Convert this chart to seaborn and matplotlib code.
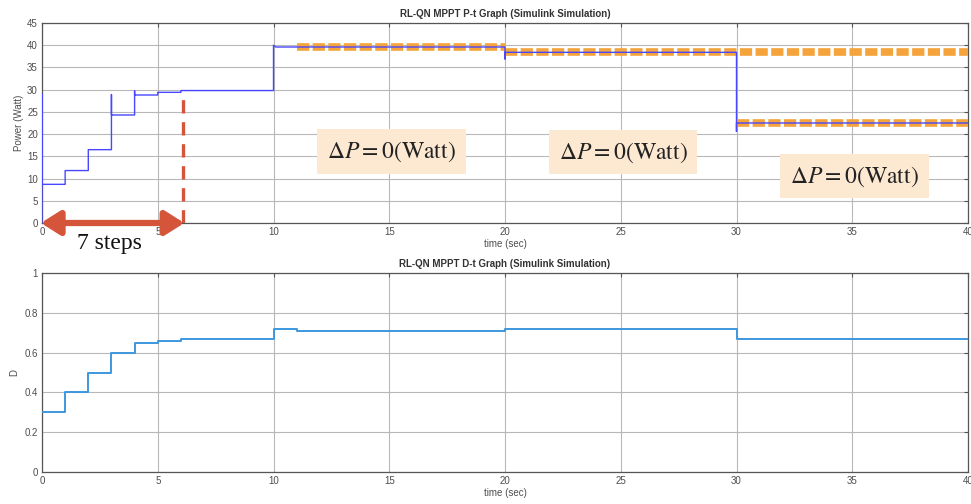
import numpy as np
import pandas as pd
import seaborn as sns
from matplotlib import pyplot as plt

# P-t trace (Simulink), vertices of the step trace incl. the short spikes
p_time = [0, 0, 0, 1, 1, 2, 2, 3, 3, 3, 4, 4, 4, 5, 5, 6, 6, 10, 10, 10.1, 20, 20, 20, 30, 30, 30, 40]
p_watt = [0, 29, 8.7, 8.7, 11.8, 11.8, 16.5, 16.5, 28.9, 24.3, 24.3, 29.7, 28.8, 28.8, 29.4, 29.4, 29.8,
          29.8, 40.0, 39.6, 39.6, 36.9, 38.4, 38.4, 20.6, 22.5, 22.5]

# D-t trace (duty cycle), step-post values
d_time = [0, 1, 2, 3, 4, 5, 6, 10, 11, 20, 30, 40]
d_duty = [0.30, 0.40, 0.50, 0.60, 0.65, 0.66, 0.67, 0.72, 0.71, 0.72, 0.67, 0.67]

# steady-state markers (orange dashed) and delta-P labels
ss_start = [11, 20, 30]
ss_end = [20, 40, 40]
ss_level = [39.7, 38.4, 22.5]
label_x = [15.1, 25.1, 35.1]
label_y = [16.1, 15.9, 10.5]
label_txt = r'$\Delta P = 0(\mathrm{Watt})$'

conv_t = 6.1      # convergence time (7 steps)
conv_p = 28.5

sns.set_theme(style='white')
plt.rcParams['font.family'] = ['Liberation Sans', 'DejaVu Sans']
plt.rcParams['mathtext.fontset'] = 'stix'

tick_col = '#4d4d4d'
grid_col = '#b8b8b8'

fig = plt.figure(figsize=(9.71, 5.04), dpi=100)
ax1 = fig.add_axes([42 / 971, 1 - 223 / 504, 926 / 971, 200 / 504])
ax2 = fig.add_axes([42 / 971, 1 - 472 / 504, 926 / 971, 199 / 504])

df_p = pd.DataFrame({'t': p_time, 'p': p_watt})
df_d = pd.DataFrame({'t': d_time, 'd': d_duty})

# orange dashed steady-state bands under the blue trace
for a, b, lv in zip(ss_start, ss_end, ss_level):
    ax1.plot([a, b], [lv, lv], color='#f5a33b', lw=5.5, ls=(0, (1.6, 0.45)), zorder=3)

sns.lineplot(data=df_p, x='t', y='p', ax=ax1, sort=False, estimator=None,
             color='#4747ff', lw=1.0, zorder=4)
sns.lineplot(data=df_d, x='t', y='d', ax=ax2, sort=False, estimator=None,
             drawstyle='steps-post', color='#3d97dd', lw=1.4, zorder=4)

# red dashed convergence line + double arrow
ax1.plot([conv_t, conv_t], [0, conv_p], color='#d4553a', lw=2.4, ls=(0, (4, 2.6)), zorder=5)
ax1.annotate('', xy=(-0.05, 0), xytext=(conv_t + 0.05, 0),
             arrowprops=dict(arrowstyle='<|-|>,head_length=0.95,head_width=0.6',
                             color='#d4553a', lw=4.5, shrinkA=0, shrinkB=0),
             annotation_clip=False, zorder=6)
ax1.text(2.9, -4.6, '7 steps', fontsize=17, family='Liberation Serif', color='#111111',
         ha='center', va='center', clip_on=False)

for x, y in zip(label_x, label_y):
    ax1.text(x, y, label_txt, fontsize=17, ha='center', va='center', color='#222222',
             bbox=dict(boxstyle='square,pad=0.42', fc='#fde8d2', ec='none'), zorder=7)

ax1.set_ylim(0, 45)
ax1.set_yticks(np.arange(0, 46, 5))
ax1.set_ylabel('Power (Watt)', fontsize=7, color=tick_col, labelpad=2)
ax1.set_title('RL-QN MPPT P-t Graph (Simulink Simulation)', fontsize=7, fontweight='bold',
              color='#333333', pad=4)

ax2.set_ylim(0, 1)
ax2.set_yticks(np.arange(0, 1.01, 0.2))
ax2.set_yticklabels(['0', '0.2', '0.4', '0.6', '0.8', '1'])
ax2.set_ylabel('D', fontsize=7, color=tick_col, labelpad=4)
ax2.set_title('RL-QN MPPT D-t Graph (Simulink Simulation)', fontsize=7, fontweight='bold',
              color='#333333', pad=4)

for ax in (ax1, ax2):
    ax.set_xlim(0, 40)
    ax.set_xticks(np.arange(0, 41, 5))
    ax.set_xlabel('time (sec)', fontsize=7, color=tick_col, labelpad=1)
    ax.grid(True, color=grid_col, lw=0.8)
    ax.set_axisbelow(True)
    ax.tick_params(direction='in', length=3, width=0.8, labelsize=7, colors='#555555',
                   labelcolor=tick_col, top=True, right=True, pad=3)
    for s in ax.spines.values():
        s.set_color('#555555')
        s.set_linewidth(0.9)
        s.set_visible(True)

fig.savefig('out.png', dpi=100)
